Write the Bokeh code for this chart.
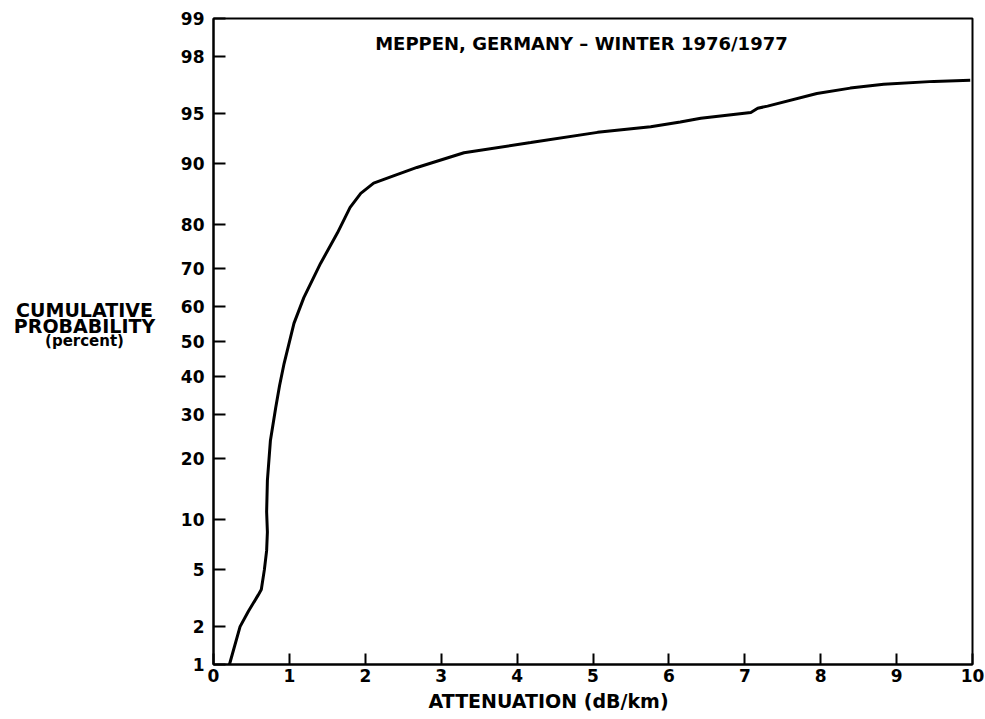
from statistics import NormalDist
from bokeh.plotting import figure
from bokeh.layouts import row
from bokeh.models import Range1d, FixedTicker, CustomJSTickFormatter, Label, Title
from bokeh.core.properties import value
from bokeh.embed import file_html
from bokeh.resources import INLINE

# ---- data ----
attenuation_db_km = [0.21, 0.35, 0.46, 0.59, 0.63, 0.67, 0.70, 0.71, 0.70, 0.71,
                     0.75, 0.82, 0.87, 0.93, 1.06, 1.19, 1.41, 1.63, 1.80, 1.94,
                     2.11, 2.38, 2.68, 3.30, 4.18, 5.06, 5.76, 6.15, 6.42, 7.08,
                     7.17, 7.30, 7.95, 8.39, 8.83, 9.49, 9.97]
cumulative_pct = [1.0, 2.0, 2.6, 3.4, 3.7, 5.0, 6.6, 8.5, 11.0, 15.8,
                  23.8, 31.7, 37.5, 43.7, 55.2, 62.4, 71.3, 78.2, 83.3, 85.7,
                  87.3, 88.4, 89.5, 91.3, 92.4, 93.4, 93.9, 94.3, 94.6, 95.05,
                  95.35, 95.5, 96.3, 96.6, 96.8, 96.95, 97.0]

prob_ticks = [1, 2, 5, 10, 20, 30, 40, 50, 60, 70, 80, 90, 95, 98, 99]
prob_tick_labels = [str(t) for t in prob_ticks]
x_ticks = list(range(0, 11))

title_text = "MEPPEN, GERMANY \u2013 WINTER 1976/1977"
x_label_text = "ATTENUATION (dB/km)"
y_label_lines = ["CUMULATIVE", "PROBABILITY", "(percent)"]

# ---- normal probability scale ----
nd = NormalDist()
def probit(pct):
    return nd.inv_cdf(pct / 100.0)

z_vals = [probit(v) for v in cumulative_pct]
z_ticks = [probit(v) for v in prob_ticks]
z_lo, z_hi = probit(1), probit(99)

FONT = "DejaVu Sans"
LABEL_W = 170

# ---- left panel holding the y-axis title ----
lab = figure(width=LABEL_W, height=719, x_range=Range1d(0, LABEL_W), y_range=Range1d(719, 0),
             output_backend="svg", toolbar_location=None, min_border=0,
             x_axis_location=None, y_axis_location=None)
lab.grid.visible = False
lab.outline_line_color = None
lab.background_fill_color = "white"
lab.border_fill_color = "white"
lab.text(x=[84, 84], y=[324, 342], text=y_label_lines[:2],
         text_font=value(FONT), text_font_style="bold", text_font_size="19px",
         text_align="center", text_baseline="middle", text_color="black")
lab.text(x=[84], y=[359], text=y_label_lines[2:],
         text_font=value(FONT), text_font_style="bold", text_font_size="15px",
         text_align="center", text_baseline="middle", text_color="black")

# ---- main chart ----
p = figure(width=985 - LABEL_W, height=719,
           x_range=Range1d(0, 10), y_range=Range1d(z_lo, z_hi),
           output_backend="svg", toolbar_location=None,
           min_border_left=213 - LABEL_W, min_border_right=13,
           min_border_top=18, min_border_bottom=55)

p.background_fill_color = "white"
p.border_fill_color = "white"
p.xgrid.visible = False
p.ygrid.visible = False
p.outline_line_color = "black"
p.outline_line_width = 2

p.line(attenuation_db_km, z_vals, line_color="black", line_width=3)

# x axis
xa = p.xaxis[0]
xa.ticker = FixedTicker(ticks=x_ticks)
xa.major_tick_in = 11
xa.major_tick_out = 0
xa.minor_tick_line_color = None
xa.axis_line_width = 2
xa.major_tick_line_width = 2
xa.major_label_standoff = 4
xa.major_label_text_font = FONT
xa.major_label_text_font_style = "bold"
xa.major_label_text_font_size = "17px"
xa.major_label_text_color = "black"

# y axis (probability)
ya = p.yaxis[0]
ya.ticker = FixedTicker(ticks=z_ticks)
ya.formatter = CustomJSTickFormatter(args=dict(zs=z_ticks, labs=prob_tick_labels), code="""
let best = 0;
for (let i = 0; i < zs.length; i++) {
  if (Math.abs(zs[i] - tick) < Math.abs(zs[best] - tick)) best = i;
}
return labs[best];
""")
ya.major_tick_in = 12
ya.major_tick_out = 0
ya.minor_tick_line_color = None
ya.axis_line_width = 2
ya.major_tick_line_width = 2
ya.major_label_standoff = 9
ya.major_label_text_font = FONT
ya.major_label_text_font_style = "bold"
ya.major_label_text_font_size = "17px"
ya.major_label_text_color = "black"

# x-axis title, left-aligned under the frame
p.add_layout(Title(text=x_label_text, align="left", offset=428 - 213, standoff=6,
                   text_font=FONT, text_font_style="bold", text_font_size="19px",
                   text_color="black"), "below")

# chart title inside the frame
px_per_z = 646 / (z_hi - z_lo)
title_x = 2.13
title_z = (341 - 43) / px_per_z
p.add_layout(Label(x=title_x, y=title_z, text=title_text,
                   text_font=FONT, text_font_style="bold", text_font_size="18px",
                   text_align="left", text_baseline="middle", text_color="black"))

layout = row(lab, p, spacing=0)
open("out.html", "w").write(file_html(layout, INLINE))
